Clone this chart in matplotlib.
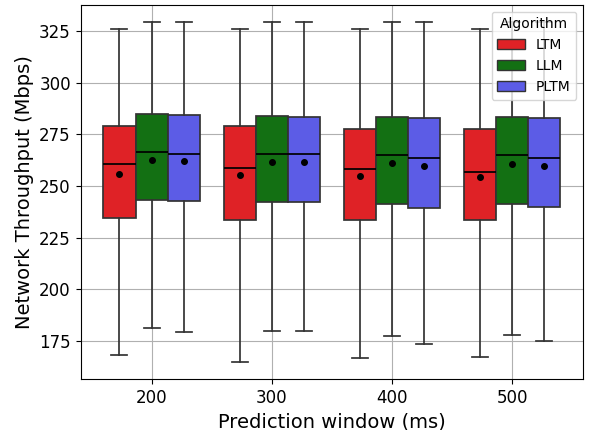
import numpy as np
import matplotlib
matplotlib.use('Agg')
import matplotlib.pyplot as plt
from matplotlib.patches import Patch

# prediction windows and algorithms
windows = ['200', '300', '400', '500']
algos = ['LTM', 'LLM', 'PLTM']
colors = ['#df2226', '#137013', '#5c5ce6']

# box stats, one list per algorithm (200, 300, 400, 500 ms)
ltm_low = [168.3, 165.0, 166.8, 167.5]
ltm_q1 = [234.7, 233.4, 233.4, 233.4]
ltm_med = [260.5, 258.7, 258.1, 256.8]
ltm_q3 = [279.2, 279.0, 277.8, 277.4]
ltm_high = [326.1, 326.1, 326.1, 326.1]
ltm_mean = [256.0, 255.2, 254.7, 254.4]

llm_low = [181.5, 180.0, 177.6, 177.8]
llm_q1 = [243.4, 242.4, 241.3, 241.3]
llm_med = [266.5, 265.5, 265.0, 265.0]
llm_q3 = [284.9, 284.0, 283.5, 283.5]
llm_high = [329.5, 329.5, 329.5, 329.5]
llm_mean = [262.8, 261.6, 261.0, 260.8]

pltm_low = [179.4, 180.0, 173.6, 175.2]
pltm_q1 = [242.6, 242.3, 239.2, 239.9]
pltm_med = [265.5, 265.5, 263.7, 263.4]
pltm_q3 = [284.5, 283.5, 283.1, 282.8]
pltm_high = [329.5, 329.5, 329.5, 329.5]
pltm_mean = [262.1, 261.5, 259.5, 259.7]

series = [
    (ltm_low, ltm_q1, ltm_med, ltm_q3, ltm_high, ltm_mean),
    (llm_low, llm_q1, llm_med, llm_q3, llm_high, llm_mean),
    (pltm_low, pltm_q1, pltm_med, pltm_q3, pltm_high, pltm_mean),
]

fig = plt.figure(figsize=(5.97, 4.3), dpi=100)
ax = fig.add_axes([0.135, 0.119, 0.842, 0.870])
ax.grid(True, color='#b0b0b0', linewidth=0.8, zorder=0)
ax.set_axisbelow(True)

width = 0.8 / 3
edge = '#333333'
for j, (lo, q1, med, q3, hi, mn) in enumerate(series):
    stats = []
    for i in range(len(windows)):
        stats.append(dict(whislo=lo[i], q1=q1[i], med=med[i], q3=q3[i],
                          whishi=hi[i], mean=mn[i], fliers=[]))
    pos = np.arange(len(windows)) + (j - 1) * width
    ax.bxp(stats, positions=pos, widths=width, patch_artist=True,
           showmeans=True, manage_ticks=False,
           boxprops=dict(facecolor=colors[j], edgecolor=edge, linewidth=1.25),
           medianprops=dict(color='black', linewidth=1.25),
           whiskerprops=dict(color=edge, linewidth=1.25),
           capprops=dict(color=edge, linewidth=1.25),
           meanprops=dict(marker='o', markerfacecolor='black',
                          markeredgecolor='black', markersize=4))

ax.set_xticks(np.arange(len(windows)))
ax.set_xticklabels(windows)
ax.set_xlim(-0.59, 3.59)
ax.set_ylim(156.7, 337.7)
ax.set_yticks([175, 200, 225, 250, 275, 300, 325])
ax.tick_params(labelsize=12)
ax.set_xlabel('Prediction window (ms)', fontsize=14)
ax.set_ylabel('Network Throughput (Mbps)', fontsize=14)

handles = [Patch(facecolor=c, edgecolor=edge, label=a) for a, c in zip(algos, colors)]
ax.legend(handles=handles, title='Algorithm', loc='upper right', fontsize=10,
          title_fontsize=10)

plt.savefig('out.png', dpi=100)
